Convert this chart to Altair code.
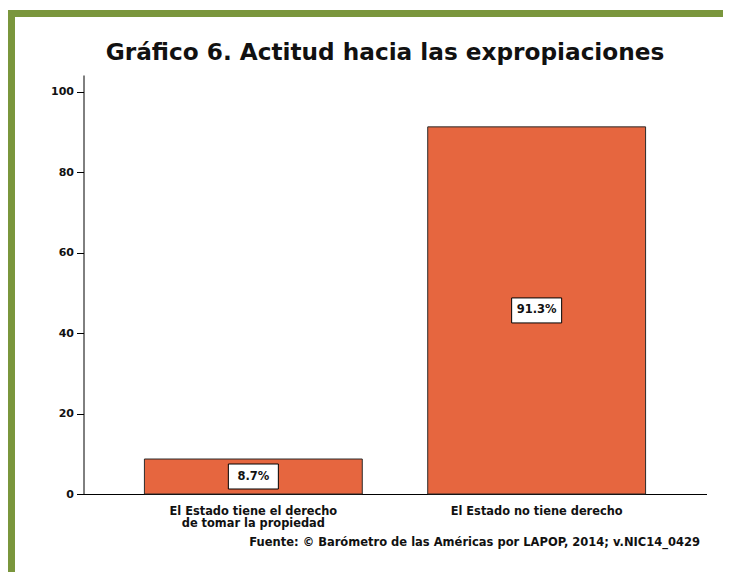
import json
import altair as alt
import pandas as pd

title_text = "Gráfico 6. Actitud hacia las expropiaciones"
source_text = "Fuente: © Barómetro de las Américas por LAPOP, 2014; v.NIC14_0429"
category_lines = [["El Estado tiene el derecho", "de tomar la propiedad"],
                  ["El Estado no tiene derecho"]]
categories = [" ".join(lines) for lines in category_lines]
values = [8.7, 91.3]
value_labels = ["8.7%", "91.3%"]
y_ticks = [0, 20, 40, 60, 80, 100]

FONT = "DejaVu Sans"
INK = "#111111"
BAR = "#E6663F"
GREEN = "#7A963C"

df = pd.DataFrame({"cat": categories, "val": values, "lab": value_labels})

label_expr = "datum.label"
for cat, lines in reversed(list(zip(categories, category_lines))):
    label_expr = f"datum.value == '{cat}' ? {json.dumps(lines)} : ({label_expr})"

x_enc = alt.X(
    "cat:N",
    sort=categories,
    scale=alt.Scale(paddingInner=0.231, paddingOuter=0.215),
    axis=alt.Axis(
        title=None, ticks=False, labelAngle=0, labelPadding=11,
        labelFont=FONT, labelFontSize=11.4, labelFontWeight="bold",
        labelColor=INK, labelLineHeight=12.5, labelBaseline="top",
        domainColor="black", domainWidth=1, labelExpr=label_expr,
    ),
)
y_scale = alt.Scale(domain=[0, 104.2], nice=False, zero=True)

bars = alt.Chart(df).mark_bar(color=BAR, stroke="#2b2b2b", strokeWidth=1).encode(
    x=x_enc,
    y=alt.Y(
        "val:Q", scale=y_scale,
        axis=alt.Axis(
            title=None, values=y_ticks, grid=False, tickSize=7, tickColor="black",
            tickWidth=1, domainColor="black", domainWidth=1, labelPadding=3,
            labelFont=FONT, labelFontSize=11, labelFontWeight="bold", labelColor=INK,
        ),
    ),
)

boxes = alt.Chart(df).transform_calculate(mid="datum.val / 2").mark_point(
    shape="M-1,-0.5H1V0.5H-1Z", size=2500, filled=True, fill="white",
    fillOpacity=1, stroke="black", strokeWidth=1, strokeOpacity=1, opacity=1,
).encode(x=alt.X("cat:N", sort=categories), y=alt.Y("mid:Q", scale=y_scale, title=None))

labels = alt.Chart(df).transform_calculate(mid="datum.val / 2").mark_text(
    font=FONT, fontSize=11.5, fontWeight="bold", color=INK,
    align="center", baseline="middle",
).encode(x=alt.X("cat:N", sort=categories), y=alt.Y("mid:Q", scale=y_scale, title=None),
         text="lab:N")

one = pd.DataFrame({"k": [0]})
frame_top = alt.Chart(one).mark_rect(color=GREEN).encode(
    x=alt.value(-76.5), x2=alt.value(660), y=alt.value(-65), y2=alt.value(-58))
frame_left = alt.Chart(one).mark_rect(color=GREEN).encode(
    x=alt.value(-76.5), x2=alt.value(-68.5), y=alt.value(-65), y2=alt.value(530))

title = alt.Chart(one).mark_text(
    font=FONT, fontSize=23.2, fontWeight="bold", color=INK,
    align="center", baseline="alphabetic",
).encode(x=alt.value(301.5), y=alt.value(-15), text=alt.value(title_text))

source = alt.Chart(one).mark_text(
    font=FONT, fontSize=11.5, fontWeight="bold", color=INK,
    align="right", baseline="alphabetic",
).encode(x=alt.value(616.5), y=alt.value(471), text=alt.value(source_text))

chart = alt.layer(frame_top, frame_left, bars, boxes, labels, title, source).properties(
    width=623, height=419, background="white",
    padding={"left": 75.5, "top": 67, "right": 16.5, "bottom": 78},
    autosize=alt.AutoSizeParams(type="none"),
).configure_view(stroke=None)

chart.save("out.html", embed_options={"renderer": "svg", "actions": False})
